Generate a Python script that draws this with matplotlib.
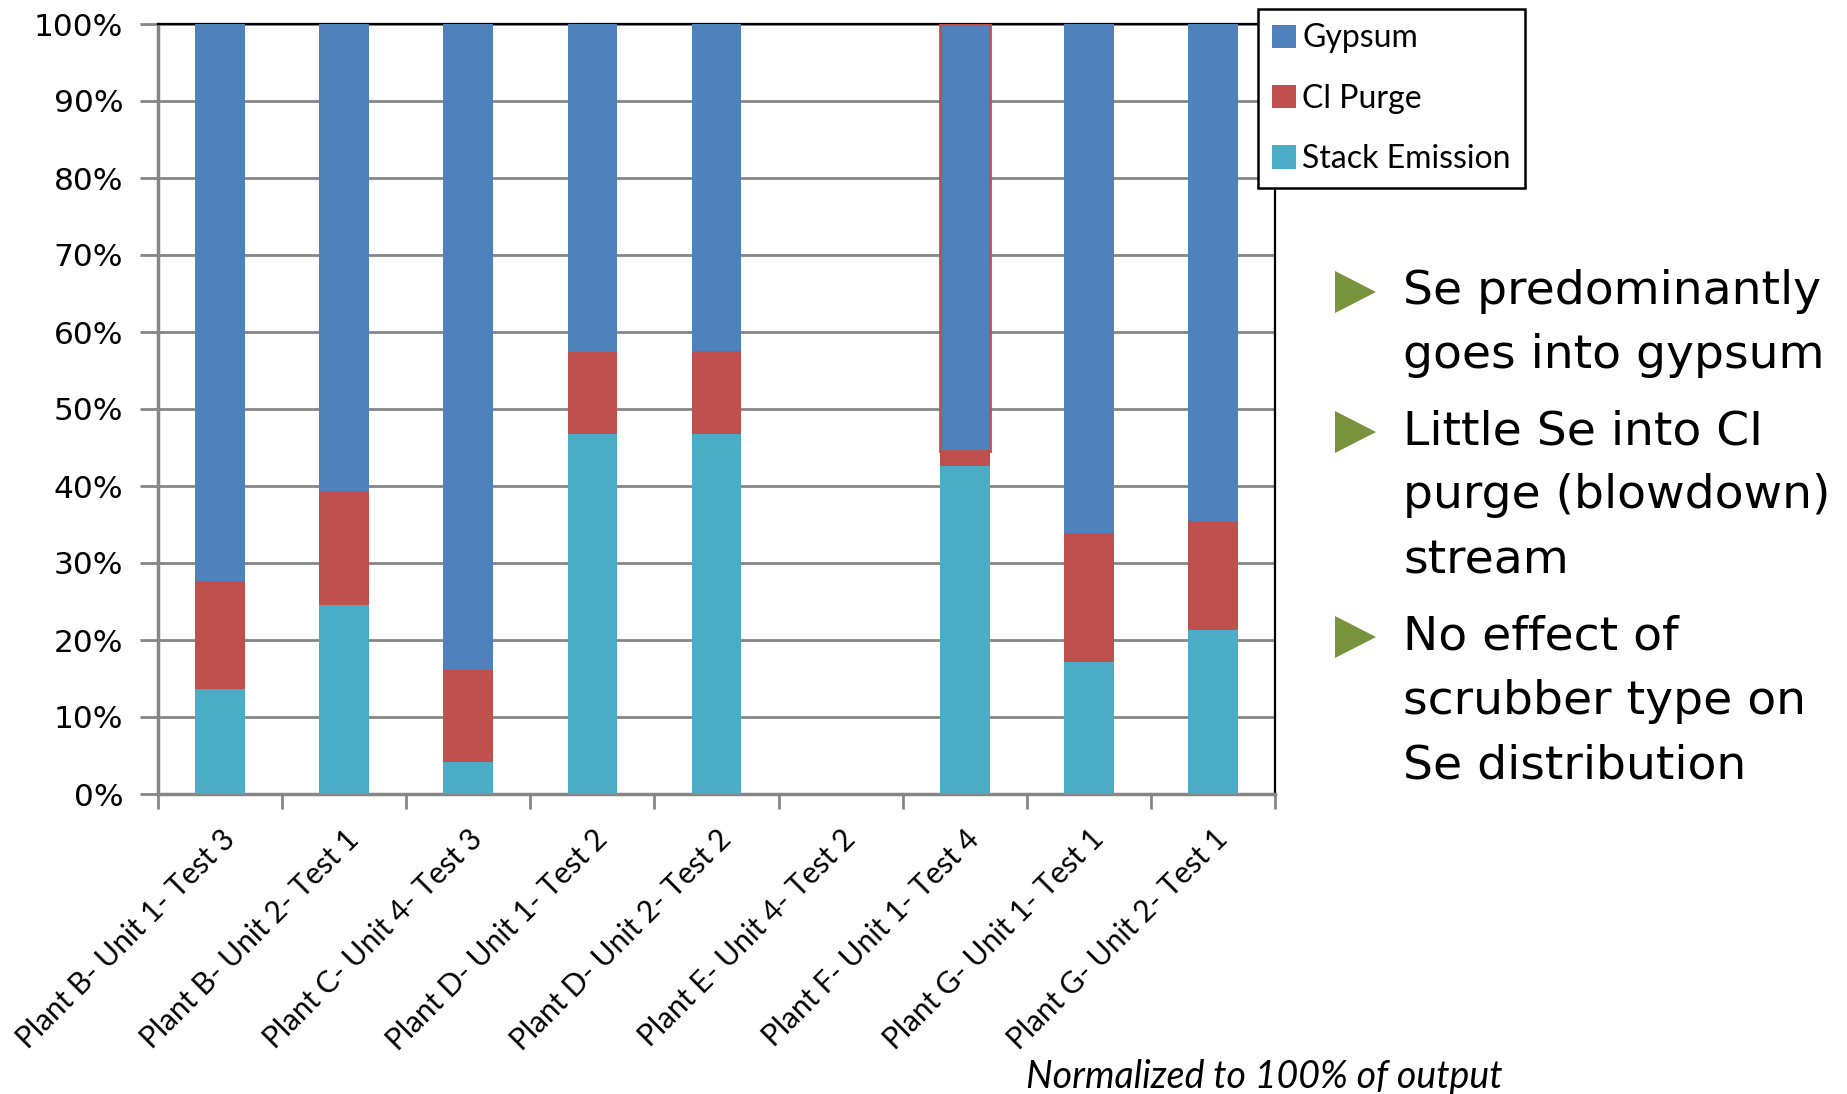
import matplotlib
matplotlib.use("Agg")
import matplotlib.pyplot as plt
import numpy as np
from matplotlib.patches import Polygon
from matplotlib.ticker import PercentFormatter

# Selenium distribution by output stream (percent of total output)
categories = [
    "Plant B- Unit 1- Test 3",
    "Plant B- Unit 2- Test 1",
    "Plant C- Unit 4- Test 3",
    "Plant D- Unit 1- Test 2",
    "Plant D- Unit 2- Test 2",
    "Plant E- Unit 4- Test 2",
    "Plant F- Unit 1- Test 4",
    "Plant G- Unit 1- Test 1",
    "Plant G- Unit 2- Test 1",
]
stack_emission = [13.6, 24.6, 4.2, 46.8, 46.8, 0.0, 42.6, 17.1, 21.3]
cl_purge = [14.1, 14.8, 11.9, 10.6, 10.7, 0.0, 2.0, 16.8, 14.2]
gypsum = [72.3, 60.6, 83.9, 42.6, 42.5, 0.0, 55.4, 66.1, 64.5]
y_ticks = [0, 10, 20, 30, 40, 50, 60, 70, 80, 90, 100]

bullets = [
    ["Se predominantly", "goes into gypsum"],
    ["Little Se into CI", "purge (blowdown)", "stream"],
    ["No effect of", "scrubber type on", "Se distribution"],
]
footnote = "Normalized to 100% of output"

C_GYP = "#4F81BD"
C_CL = "#C0504D"
C_STACK = "#4BACC6"
GRID = "#868686"

W, H = 1847, 1094
fig = plt.figure(figsize=(W / 100, H / 100), dpi=100)
ax = fig.add_axes([158 / W, 1 - 794 / H, (1275 - 158) / W, (794 - 24) / H])

x = np.arange(len(categories))
stack = np.array(stack_emission)
cl = np.array(cl_purge)
gyp = np.array(gypsum)
bw = 0.4

b1 = ax.bar(x, stack, bw, color=C_STACK, zorder=3, label="Stack Emission")
b2 = ax.bar(x, cl, bw, bottom=stack, color=C_CL, zorder=3, label="Cl Purge")
b3 = ax.bar(x, gyp, bw, bottom=stack + cl, color=C_GYP, zorder=3, label="Gypsum")
# Plant F gypsum segment carries a red outline
b3[6].set_edgecolor(C_CL)
b3[6].set_linewidth(2.0)
b3[6].set_zorder(4)

ax.set_xlim(-0.5, len(categories) - 0.5)
ax.set_ylim(0, 100)
ax.set_yticks(y_ticks)
ax.yaxis.set_major_formatter(PercentFormatter(decimals=0))
ax.grid(axis="y", color=GRID, linewidth=2.0, zorder=0)
ax.set_axisbelow(True)

ax.set_xticks(x)
ax.set_xticklabels(categories, rotation=45, ha="right", rotation_mode="anchor",
                   fontsize=21.5, family="Lato")
ax.set_xticks(np.arange(-0.5, len(categories), 1.0), minor=True)
ax.tick_params(axis="x", which="major", length=0, pad=22)
ax.tick_params(axis="x", which="minor", length=11, width=2, color=GRID, direction="out")
ax.tick_params(axis="y", length=13, width=2, color=GRID, direction="out",
               labelsize=22.5, pad=12)
for lbl in ax.get_yticklabels():
    lbl.set_family("DejaVu Sans")

for s in ("left", "bottom"):
    ax.spines[s].set_color(GRID)
    ax.spines[s].set_linewidth(2.5)
for s in ("top", "right"):
    ax.spines[s].set_color("black")
    ax.spines[s].set_linewidth(1.6)

leg = fig.legend([b3, b2, b1], ["Gypsum", "Cl Purge", "Stack Emission"],
                 loc="upper left", bbox_to_anchor=(1258 / W, 1 - 9 / H),
                 bbox_transform=fig.transFigure, frameon=True, fancybox=False,
                 edgecolor="black", framealpha=1, borderpad=0.45,
                 handlelength=0.75, handleheight=0.75, handletextpad=0.18,
                 labelspacing=0.95, borderaxespad=0, prop={"family": "Lato", "size": 23})
leg.get_frame().set_linewidth(1.8)
leg.set_zorder(10)

# Bullet list to the right of the chart
tri_color = "#77933C"
line_y = [[292, 356], [432, 496, 561], [637, 702, 766]]
for lines, ys in zip(bullets, line_y):
    cy = ys[0]
    tri = Polygon([[1335 / W, 1 - (cy - 21) / H], [1335 / W, 1 - (cy + 21) / H],
                   [1376 / W, 1 - cy / H]], closed=True, transform=fig.transFigure,
                  facecolor=tri_color, edgecolor="none")
    fig.patches.append(tri)
    for t, yy in zip(lines, ys):
        fig.text(1403 / W, 1 - yy / H, t, fontsize=34, family="DejaVu Sans",
                 va="center", ha="left")

fig.text(1503 / W, 1 - 1077 / H, footnote, fontsize=27, family="Lato",
         style="italic", ha="right", va="center")

fig.savefig("out.png", dpi=100)
